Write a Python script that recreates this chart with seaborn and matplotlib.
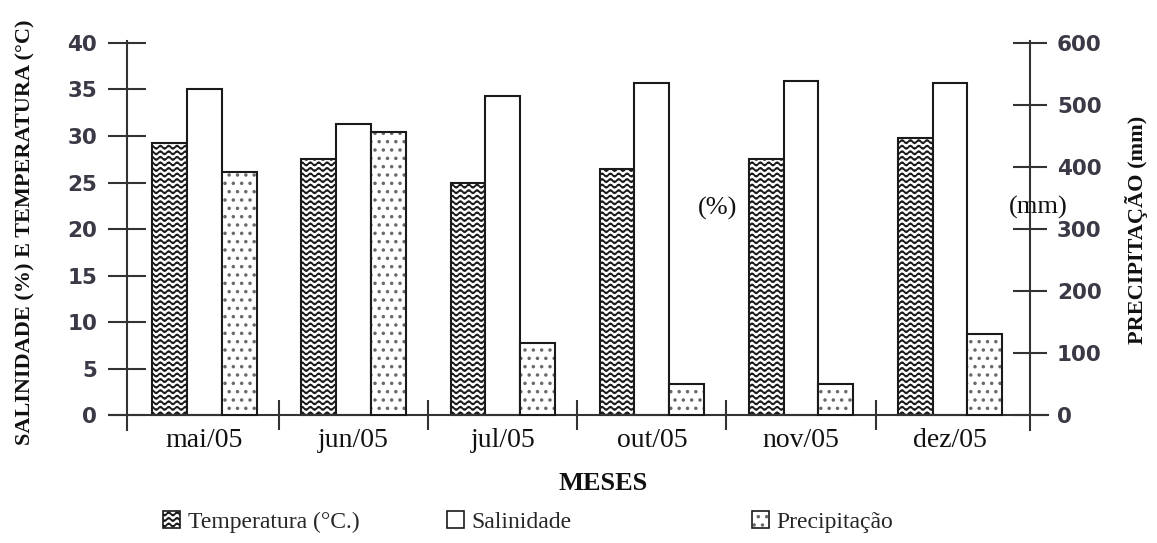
import warnings
import numpy as np
import pandas as pd
import matplotlib
matplotlib.use("Agg")
import matplotlib.pyplot as plt
import matplotlib.patches as mpatches
import matplotlib.hatch as mhatch
from matplotlib.colors import to_rgba
from matplotlib.path import Path
import seaborn as sns

warnings.filterwarnings("ignore")

# ---- data -------------------------------------------------------------
meses = ["mai/05", "jun/05", "jul/05", "out/05", "nov/05", "dez/05"]
temperatura = [29.3, 27.5, 24.9, 26.4, 27.5, 29.8]      # °C
salinidade = [35.0, 31.3, 34.3, 35.7, 35.9, 35.7]       # %
precipitacao = [392, 456, 116, 50, 50, 131]             # mm
series = ["Temperatura (°C.)", "Salinidade", "Precipitação"]
left_ticks = list(range(0, 41, 5))
right_ticks = list(range(0, 601, 100))


# ---- wavy hatch pattern ('~') -----------------------------------------
class WaveHatch(mhatch.HatchPatternBase):
    n_pts = 97
    waves = 12
    amp = 0.016

    def __init__(self, hatch, density):
        self.num_lines = int(hatch.count("~") * density)
        self.num_vertices = self.num_lines * self.n_pts

    def set_vertices_and_codes(self, vertices, codes):
        t = np.linspace(0.0, 1.0, self.n_pts)
        for i in range(self.num_lines):
            y0 = (i + 0.5) / self.num_lines
            sl = slice(i * self.n_pts, (i + 1) * self.n_pts)
            vertices[sl, 0] = t
            vertices[sl, 1] = y0 + self.amp * np.sin(2 * np.pi * self.waves * t)
            codes[sl] = Path.LINETO
            codes[i * self.n_pts] = Path.MOVETO


mhatch._hatch_types.append(WaveHatch)

hatches = {series[0]: "~~~", series[1]: "", series[2]: ".."}
hatch_colors = {series[0]: "#1a1a1a", series[1]: "#1a1a1a", series[2]: "#6a6a6a"}


def paint(patch, name, edge):
    patch.set_hatch(hatches[name])
    patch.set_edgecolor(edge)
    if hasattr(patch, "set_hatchcolor"):
        patch.set_hatchcolor(hatch_colors[name])
    else:
        patch._hatch_color = to_rgba(hatch_colors[name])


# ---- style ------------------------------------------------------------
sns.set_theme(style="white")
plt.rcParams["font.family"] = ["Liberation Serif", "DejaVu Serif"]
plt.rcParams["hatch.linewidth"] = 1.3
axis_col = "#333333"
edge_col = "#1a1a1a"

# ---- long-form table: left-axis values (°C, %) and right-axis values (mm)
n = len(meses)
nan = [np.nan] * n
df = pd.DataFrame({
    "mes": meses * 3,
    "serie": [s for s in series for _ in range(n)],
    "esquerda": temperatura + salinidade + nan,
    "direita": nan + nan + precipitacao,
})

fig = plt.figure(figsize=(11.57, 5.43), dpi=100)
ax = fig.add_axes([0.0943, 0.2081, 0.8119, 0.7162])
ax2 = ax.twinx()

common = dict(data=df, x="mes", hue="serie", order=meses, hue_order=series,
              palette={s: "white" for s in series}, saturation=1, width=0.7,
              edgecolor=edge_col, linewidth=1.5, errorbar=None, legend=False)
sns.barplot(y="esquerda", ax=ax, **common)
sns.barplot(y="direita", ax=ax2, **common)

# hatch each bar according to its slot inside the month group
for axis in (ax, ax2):
    for p in axis.patches:
        xc = p.get_x() + p.get_width() / 2
        off = xc - round(xc)
        if off < -0.1:
            paint(p, series[0], edge_col)
        elif off > 0.1:
            paint(p, series[2], edge_col)
        else:
            paint(p, series[1], edge_col)

# ---- axes geometry ----------------------------------------------------
ax.set_xlim(-0.64, 5.66)
ax.set_ylim(-1.6, 40.2)
ax2.set_ylim(-24, 603)

for s in ("top", "right"):
    ax.spines[s].set_visible(False)
for s in ("top", "left", "bottom"):
    ax2.spines[s].set_visible(False)
ax.spines["left"].set_position(("data", -0.52))
ax.spines["bottom"].set_position(("data", 0))
ax2.spines["right"].set_position(("data", 5.535))
for sp in list(ax.spines.values()) + list(ax2.spines.values()):
    sp.set_color(axis_col)
    sp.set_linewidth(1.5)

# left axis
ax.set_yticks(left_ticks)
ax.set_yticklabels([str(v) for v in left_ticks])
ax.tick_params(axis="y", direction="inout", length=27, width=1.5, pad=8,
               color=axis_col, labelsize=15.5, labelcolor="#3b3946", left=True)
for lbl in ax.get_yticklabels():
    lbl.set_fontfamily("DejaVu Sans")
    lbl.set_fontweight("bold")

# right axis
ax2.set_yticks(right_ticks)
ax2.set_yticklabels([str(v) for v in right_ticks])
ax2.tick_params(axis="y", direction="inout", length=25, width=1.5, pad=7,
                color=axis_col, labelsize=15.5, labelcolor="#3b3946", right=True)
for lbl in ax2.get_yticklabels():
    lbl.set_fontfamily("DejaVu Sans")
    lbl.set_fontweight("bold")

# month labels and group separators
ax.set_xticks(range(n))
ax.set_xticklabels(meses)
ax.set_xticks([i + 0.5 for i in range(n - 1)], minor=True)
ax.tick_params(axis="x", which="major", length=0, pad=9, labelsize=20,
               labelcolor="#111111", bottom=True)
ax.tick_params(axis="x", which="minor", direction="inout", length=21, width=1.5,
               color=axis_col, bottom=True)

ax.set_xlabel("")
ax.set_ylabel("")
ax2.set_ylabel("")
ax.grid(False)
ax2.grid(False)

# ---- texts ------------------------------------------------------------
W, H = 1157, 543
fig.text(25 / W, 1 - 232 / H, "SALINIDADE (%) E TEMPERATURA (°C)", rotation=90,
         ha="center", va="center", fontsize=16, fontweight="bold", color="#111111")
fig.text(1136 / W, 1 - 230 / H, "PRECIPITAÇÃO (mm)", rotation=90,
         ha="center", va="center", fontsize=16, fontweight="bold", color="#111111")
fig.text(603 / W, 1 - 483 / H, "MESES", ha="center", va="center",
         fontsize=19, fontweight="bold", color="#111111")
fig.text(718 / W, 1 - 208 / H, "(%)", ha="center", va="center", fontsize=19,
         color="#111111")
fig.text(1038 / W, 1 - 207 / H, "(mm)", ha="center", va="center", fontsize=19,
         color="#111111")

# ---- legend -----------------------------------------------------------
legend_x = [163, 447, 752]
for name, lx in zip(series, legend_x):
    handle = mpatches.Patch(facecolor="white", edgecolor=edge_col, linewidth=1.2,
                            label=name)
    paint(handle, name, edge_col)
    fig.legend(handles=[handle], loc="center left", bbox_to_anchor=(lx / W, 1 - 522 / H),
               bbox_transform=fig.transFigure, frameon=False, fontsize=17,
               handlelength=0.7, handleheight=0.7, handletextpad=0.35,
               borderpad=0, borderaxespad=0)

fig.savefig("out.png", dpi=100)
